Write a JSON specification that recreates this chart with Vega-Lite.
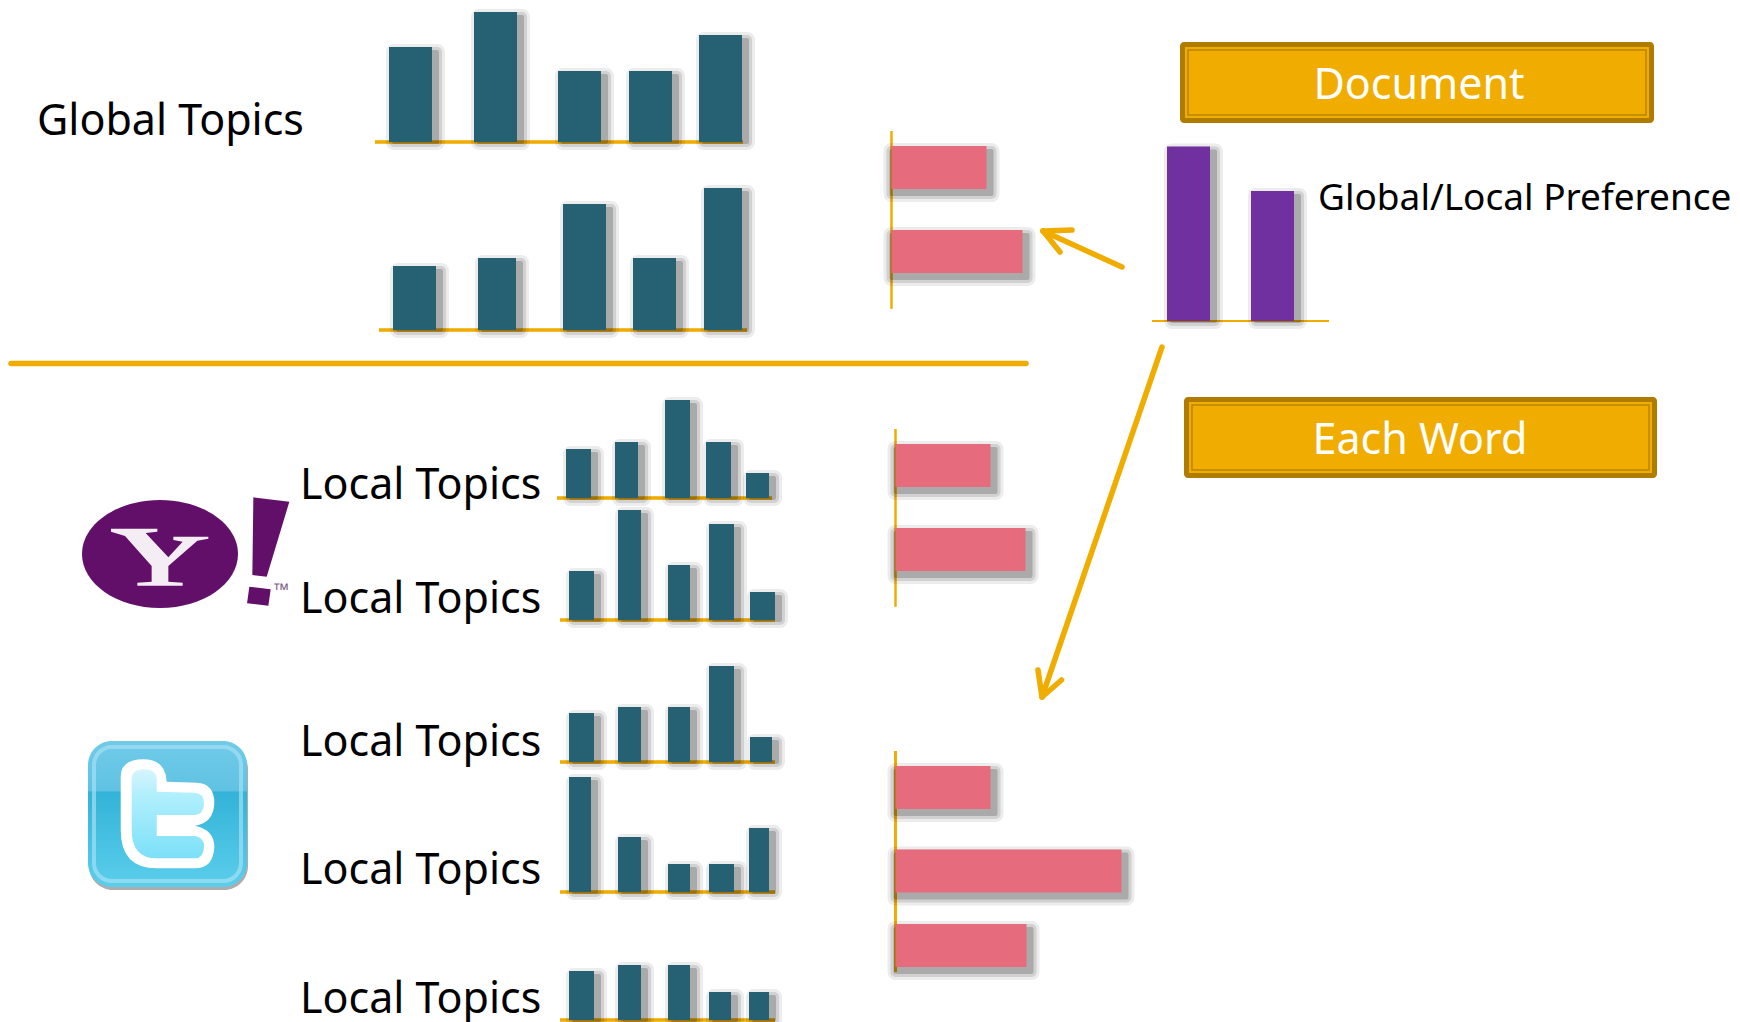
{"$schema":"https://vega.github.io/schema/vega-lite/v6.json","width":1740,"height":1022,"padding":0,"autosize":{"type":"fit","contains":"padding"},"background":"#ffffff",
"config":{"view":{"stroke":null},"axis":{"disable":true},"legend":{"disable":true},"bar":{"color":"#000000"},
"style":{"s1":{"opacity":0.07,"stroke":"#000","strokeJoin":"round","strokeWidth":16},"s2":{"opacity":0.11,"stroke":"#000","strokeJoin":"round","strokeWidth":10},"s3":{"opacity":0.18,"stroke":"#000","strokeJoin":"round","strokeWidth":4}}},
"datasets":{"bars":[
{"panel":"g1","topic":1,"value":95},{"panel":"g1","topic":2,"value":130},{"panel":"g1","topic":3,"value":71},{"panel":"g1","topic":4,"value":71},{"panel":"g1","topic":5,"value":107},
{"panel":"g2","topic":1,"value":64},{"panel":"g2","topic":2,"value":72},{"panel":"g2","topic":3,"value":126},{"panel":"g2","topic":4,"value":72},{"panel":"g2","topic":5,"value":142},
{"panel":"l1","topic":1,"value":49},{"panel":"l1","topic":2,"value":56},{"panel":"l1","topic":3,"value":98},{"panel":"l1","topic":4,"value":56},{"panel":"l1","topic":5,"value":25},
{"panel":"l2","topic":1,"value":49},{"panel":"l2","topic":2,"value":110},{"panel":"l2","topic":3,"value":55},{"panel":"l2","topic":4,"value":96},{"panel":"l2","topic":5,"value":28},
{"panel":"l3","topic":1,"value":49},{"panel":"l3","topic":2,"value":55},{"panel":"l3","topic":3,"value":55},{"panel":"l3","topic":4,"value":96},{"panel":"l3","topic":5,"value":25},
{"panel":"l4","topic":1,"value":115},{"panel":"l4","topic":2,"value":55},{"panel":"l4","topic":3,"value":28},{"panel":"l4","topic":4,"value":28},{"panel":"l4","topic":5,"value":64},
{"panel":"l5","topic":1,"value":49},{"panel":"l5","topic":2,"value":55},{"panel":"l5","topic":3,"value":55},{"panel":"l5","topic":4,"value":28},{"panel":"l5","topic":5,"value":28},
{"panel":"pref","topic":1,"value":174.5},{"panel":"pref","topic":2,"value":130},
{"panel":"pa","topic":1,"value":95},{"panel":"pa","topic":2,"value":131},
{"panel":"pb","topic":1,"value":95},{"panel":"pb","topic":2,"value":130},
{"panel":"pc","topic":1,"value":95},{"panel":"pc","topic":2,"value":226},{"panel":"pc","topic":3,"value":131}
],
"notes":[
{"kind":"frame","a":1,"b":2},{"kind":"fill","a":3,"b":4},{"kind":"thin","a":5,"b":6},
{"kind":"frame","a":7,"b":8},{"kind":"fill","a":9,"b":10},{"kind":"thin","a":11,"b":12},
{"kind":"stroke","a":13,"b":14},{"kind":"stroke","a":15,"b":16},{"kind":"stroke","a":17,"b":16},{"kind":"stroke","a":18,"b":16},
{"kind":"stroke","a":19,"b":20},{"kind":"stroke","a":21,"b":20},{"kind":"stroke","a":22,"b":20},
{"kind":"label","a":23,"text":"Global Topics"},{"kind":"label","a":24,"text":"Local Topics"},{"kind":"label","a":25,"text":"Local Topics"},{"kind":"label","a":26,"text":"Local Topics"},{"kind":"label","a":27,"text":"Local Topics"},{"kind":"label","a":28,"text":"Local Topics"},
{"kind":"pref","a":29,"text":"Global/Local Preference"},
{"kind":"title","a":30,"text":"Document"},{"kind":"title","a":31,"text":"Each Word"},
{"kind":"ellipse","a":32},{"kind":"y","a":33},{"kind":"bang","a":34},{"kind":"tm","a":35,"text":"™"},
{"kind":"tshadow","a":38,"b":39},{"kind":"tile","a":36,"b":37},{"kind":"ring","a":40,"b":41},{"kind":"t","a":42}
]},
"data":{"name":"bars"},
"resolve":{"scale":{"x":"independent","y":"independent","size":"independent"}},
"layer":[
{"data":{"name":"notes"},
"encoding":{"x":{"field":"a","type":"quantitative","scale":{"domain":[1,2,3,4,5,6,7,8,9,10,11,12,13,14,15,16,17,18,19,20,21,22,23,24,25,26,27,28,29,30,31,32,33,34,35,36,37,38,39,40,41,42],"range":[1180,1654,1185,1649,1188,1646,1184,1657,1189,1652,1192,1649,11,1026,1122,1043,1072,1060,1162,1042,1038,1061.5,37,300,300,300,300,300,1318,1419,1420,160,160,266.7,281,88,247,89,248,94,241,166.7]}},
"y":{"field":"a","type":"quantitative","scale":{"domain":[1,2,3,4,5,6,7,8,9,10,11,12,13,14,15,16,17,18,19,20,21,22,23,24,25,26,27,28,29,30,31,32,33,34,35,36,37,38,39,40,41,42],"range":[42,123,47,118,50,115,397,478,402,473,405,470,363.5,363.5,267,231,230,252,347,697,670,680,135,499,613,756,884,1013,210,86,441,554,556.7,551.7,590,741,887,745,890,747,881,813.3]}}},
"layer":[
{"transform":[{"filter":"datum.kind==='frame'"}],"mark":{"type":"rect","color":"#B07C00","cornerRadius":4},"encoding":{"x2":{"field":"b"},"y2":{"field":"b"}}},
{"transform":[{"filter":"datum.kind==='fill'"}],"mark":{"type":"rect","color":"#F0AD00"},"encoding":{"x2":{"field":"b"},"y2":{"field":"b"}}},
{"transform":[{"filter":"datum.kind==='thin'"}],"mark":{"type":"rect","filled":false,"stroke":"#B88400","strokeWidth":1.5},"encoding":{"x2":{"field":"b"},"y2":{"field":"b"}}},
{"transform":[{"filter":"datum.kind==='stroke'"}],"mark":{"type":"rule","color":"#F0AD00","strokeWidth":5.5,"strokeCap":"round"},"encoding":{"x2":{"field":"b"},"y2":{"field":"b"}}},
{"transform":[{"filter":"datum.kind==='label'"}],"mark":{"type":"text","font":"Noto Sans","fontSize":43,"color":"#000000","align":"left","baseline":"alphabetic"},"encoding":{"text":{"field":"text"}}},
{"transform":[{"filter":"datum.kind==='pref'"}],"mark":{"type":"text","font":"Noto Sans","fontSize":37,"color":"#000000","align":"left","baseline":"alphabetic"},"encoding":{"text":{"field":"text"}}},
{"transform":[{"filter":"datum.kind==='title'"}],"mark":{"type":"text","font":"Noto Sans","fontSize":43,"color":"#ffffff","align":"center","baseline":"middle"},"encoding":{"text":{"field":"text"}}},
{"transform":[{"filter":"datum.kind==='ellipse'"}],"mark":{"type":"point","filled":true,"opacity":1,"color":"#620F69","size":24336,"shape":"M-1,0A1,0.692,0,1,1,1,0A1,0.692,0,1,1,-1,0Z"}},
{"transform":[{"filter":"datum.kind==='y'"}],"mark":{"type":"point","filled":true,"opacity":1,"color":"#F4EEF4","size":10000,"shape":"M-.98,-.56L-.053,-.56L-.053,-.5L-.287,-.473L.167,.013L.453,-.3L.267,-.333L.267,-.4L.967,-.4L.967,-.36L.747,-.32L.167,.187L.167,.5L.453,.52L.453,.58L-.453,.58L-.453,.52L-.167,.5L-.167,.187L-.7,-.413L-.98,-.5Z"}},
{"transform":[{"filter":"datum.kind==='bang'"}],"mark":{"type":"point","filled":true,"opacity":1,"color":"#620F69","size":10000,"shape":"M-.267,-1.087L.453,-1L0,.5L-.287,.467ZM-.347,.7L.08,.753L.033,1.08L-.393,1.033Z"}},
{"transform":[{"filter":"datum.kind==='tm'"}],"mark":{"type":"text","font":"Liberation Sans","fontSize":17,"color":"#7A5A80","align":"center","baseline":"middle"},"encoding":{"text":{"field":"text"}}},
{"transform":[{"filter":"datum.kind==='tshadow'"}],"mark":{"type":"rect","color":"#8A8A8A","opacity":0.7,"cornerRadius":24},"encoding":{"x2":{"field":"b"},"y2":{"field":"b"}}},
{"transform":[{"filter":"datum.kind==='tile'"}],"mark":{"type":"rect","cornerRadius":24,"color":{"gradient":"linear","x1":0,"y1":0,"x2":0,"y2":1,"stops":[{"offset":0,"color":"#70CBE9"},{"offset":0.34,"color":"#60C2E3"},{"offset":0.35,"color":"#33B3D8"},{"offset":1,"color":"#5BCEEC"}]}},"encoding":{"x2":{"field":"b"},"y2":{"field":"b"}}},
{"transform":[{"filter":"datum.kind==='ring'"}],"mark":{"type":"rect","filled":false,"stroke":"#A5DFF2","strokeOpacity":0.7,"strokeWidth":4,"cornerRadius":18},"encoding":{"x2":{"field":"b"},"y2":{"field":"b"}}},
{"transform":[{"filter":"datum.kind==='t'"}],"mark":{"type":"point","filled":true,"opacity":1,"color":"#ffffff","size":10000,"shape":"M-.92,-.733Q-.92,-1.08,-.467,-1.08Q-.02,-1.08,0,-.633L.6,-.613Q.953,-.6,.953,-.2Q.933,.2,.567,.247Q.953,.333,.953,.667Q.933,1.1,.567,1.1L-.2,1.1Q-.92,1.1,-.92,.333Z"}},
{"transform":[{"filter":"datum.kind==='t'"}],"mark":{"type":"point","filled":true,"opacity":1,"size":10000,"color":{"gradient":"linear","x1":0,"y1":0,"x2":0,"y2":1,"stops":[{"offset":0,"color":"#D5F5FD"},{"offset":0.3,"color":"#B0EFFD"},{"offset":1,"color":"#7CE0F8"}]},"shape":"M-.7,-.667Q-.7,-.88,-.467,-.88Q-.2,-.88,-.2,-.667L-.2,-.433L.567,-.413Q.747,-.4,.747,-.2Q.733,.033,.567,.033L-.2,.033L-.2,.453L.567,.453Q.747,.48,.747,.667Q.733,.9,.567,.9L-.2,.9Q-.7,.9,-.7,.333Z"}}
]},
{"transform":[{"filter":"datum.panel==='g1'"}],"encoding":{"x":{"field":"topic","type":"quantitative","scale":{"padding":0,"domain":[0,1,2,3,4,5,6],"range":[375,410.5,495.5,579.5,650.5,720.5,743]}},"y":{"field":"value","type":"quantitative","stack":null,"scale":{"domain":[0,100],"range":[142,42]}},"size":{"field":"topic","type":"quantitative","scale":{"domain":[1,5],"range":[43,43]}}},"layer":[
{"mark":{"type":"rule","color":"#F0AD00","strokeWidth":2.5},"encoding":{"size":null,"x":{"datum":0,"type":"quantitative"},"x2":{"datum":6},"y":{"datum":0,"type":"quantitative"}}},
{"mark":{"type":"bar","orient":"vertical","style":"s1","xOffset":5,"yOffset":5}},{"mark":{"type":"bar","orient":"vertical","style":"s2","xOffset":5,"yOffset":5}},{"mark":{"type":"bar","orient":"vertical","style":"s3","xOffset":5,"yOffset":5}},
{"mark":{"type":"bar","orient":"vertical","color":"#266173"}}]},
{"transform":[{"filter":"datum.panel==='g2'"}],"encoding":{"x":{"field":"topic","type":"quantitative","scale":{"padding":0,"domain":[0,1,2,3,4,5,6],"range":[379,414.5,497,584.5,654.5,723,747]}},"y":{"field":"value","type":"quantitative","stack":null,"scale":{"domain":[0,100],"range":[330,230]}},"size":{"field":"topic","type":"quantitative","scale":{"domain":[1,2,3,4,5],"range":[43,38,43,43,38]}}},"layer":[
{"mark":{"type":"rule","color":"#F0AD00","strokeWidth":2.5},"encoding":{"size":null,"x":{"datum":0,"type":"quantitative"},"x2":{"datum":6},"y":{"datum":0,"type":"quantitative"}}},
{"mark":{"type":"bar","orient":"vertical","style":"s1","xOffset":5,"yOffset":5}},{"mark":{"type":"bar","orient":"vertical","style":"s2","xOffset":5,"yOffset":5}},{"mark":{"type":"bar","orient":"vertical","style":"s3","xOffset":5,"yOffset":5}},
{"mark":{"type":"bar","orient":"vertical","color":"#266173"}}]},
{"transform":[{"filter":"datum.panel==='l1'"}],"encoding":{"x":{"field":"topic","type":"quantitative","scale":{"padding":0,"domain":[0,1,2,3,4,5,6],"range":[557,578.5,626.5,677.5,718.5,757.5,772]}},"y":{"field":"value","type":"quantitative","stack":null,"scale":{"domain":[0,100],"range":[498,398]}},"size":{"field":"topic","type":"quantitative","scale":{"domain":[1,2,3,4,5],"range":[25,23,25,25,23]}}},"layer":[
{"mark":{"type":"rule","color":"#F0AD00","strokeWidth":2.5},"encoding":{"size":null,"x":{"datum":0,"type":"quantitative"},"x2":{"datum":6},"y":{"datum":0,"type":"quantitative"}}},
{"mark":{"type":"bar","orient":"vertical","style":"s1","xOffset":5,"yOffset":5}},{"mark":{"type":"bar","orient":"vertical","style":"s2","xOffset":5,"yOffset":5}},{"mark":{"type":"bar","orient":"vertical","style":"s3","xOffset":5,"yOffset":5}},
{"mark":{"type":"bar","orient":"vertical","color":"#266173"}}]},
{"transform":[{"filter":"datum.panel==='l2'"}],"encoding":{"x":{"field":"topic","type":"quantitative","scale":{"padding":0,"domain":[0,1,2,3,4,5,6],"range":[560,581.5,629.5,679,721.5,762.5,775]}},"y":{"field":"value","type":"quantitative","stack":null,"scale":{"domain":[0,100],"range":[620,520]}},"size":{"field":"topic","type":"quantitative","scale":{"domain":[1,2,3,4,5],"range":[25,23,22,25,25]}}},"layer":[
{"mark":{"type":"rule","color":"#F0AD00","strokeWidth":2.5},"encoding":{"size":null,"x":{"datum":0,"type":"quantitative"},"x2":{"datum":6},"y":{"datum":0,"type":"quantitative"}}},
{"mark":{"type":"bar","orient":"vertical","style":"s1","xOffset":5,"yOffset":5}},{"mark":{"type":"bar","orient":"vertical","style":"s2","xOffset":5,"yOffset":5}},{"mark":{"type":"bar","orient":"vertical","style":"s3","xOffset":5,"yOffset":5}},
{"mark":{"type":"bar","orient":"vertical","color":"#266173"}}]},
{"transform":[{"filter":"datum.panel==='l3'"}],"encoding":{"x":{"field":"topic","type":"quantitative","scale":{"padding":0,"domain":[0,1,2,3,4,5,6],"range":[560,581.5,629.5,679,721.5,761,775]}},"y":{"field":"value","type":"quantitative","stack":null,"scale":{"domain":[0,100],"range":[762,662]}},"size":{"field":"topic","type":"quantitative","scale":{"domain":[1,2,3,4,5],"range":[25,23,22,25,22]}}},"layer":[
{"mark":{"type":"rule","color":"#F0AD00","strokeWidth":2.5},"encoding":{"size":null,"x":{"datum":0,"type":"quantitative"},"x2":{"datum":6},"y":{"datum":0,"type":"quantitative"}}},
{"mark":{"type":"bar","orient":"vertical","style":"s1","xOffset":5,"yOffset":5}},{"mark":{"type":"bar","orient":"vertical","style":"s2","xOffset":5,"yOffset":5}},{"mark":{"type":"bar","orient":"vertical","style":"s3","xOffset":5,"yOffset":5}},
{"mark":{"type":"bar","orient":"vertical","color":"#266173"}}]},
{"transform":[{"filter":"datum.panel==='l4'"}],"encoding":{"x":{"field":"topic","type":"quantitative","scale":{"padding":0,"domain":[0,1,2,3,4,5,6],"range":[560,580,629.5,679,721.5,759,775]}},"y":{"field":"value","type":"quantitative","stack":null,"scale":{"domain":[0,100],"range":[892,792]}},"size":{"field":"topic","type":"quantitative","scale":{"domain":[1,2,3,4,5],"range":[22,23,22,25,20]}}},"layer":[
{"mark":{"type":"rule","color":"#F0AD00","strokeWidth":2.5},"encoding":{"size":null,"x":{"datum":0,"type":"quantitative"},"x2":{"datum":6},"y":{"datum":0,"type":"quantitative"}}},
{"mark":{"type":"bar","orient":"vertical","style":"s1","xOffset":5,"yOffset":5}},{"mark":{"type":"bar","orient":"vertical","style":"s2","xOffset":5,"yOffset":5}},{"mark":{"type":"bar","orient":"vertical","style":"s3","xOffset":5,"yOffset":5}},
{"mark":{"type":"bar","orient":"vertical","color":"#266173"}}]},
{"transform":[{"filter":"datum.panel==='l5'"}],"encoding":{"x":{"field":"topic","type":"quantitative","scale":{"padding":0,"domain":[0,1,2,3,4,5,6],"range":[560,581.5,629.5,679,720,759,775]}},"y":{"field":"value","type":"quantitative","stack":null,"scale":{"domain":[0,100],"range":[1020,920]}},"size":{"field":"topic","type":"quantitative","scale":{"domain":[1,2,3,4,5],"range":[25,23,22,22,20]}}},"layer":[
{"mark":{"type":"rule","color":"#F0AD00","strokeWidth":2.5},"encoding":{"size":null,"x":{"datum":0,"type":"quantitative"},"x2":{"datum":6},"y":{"datum":0,"type":"quantitative"}}},
{"mark":{"type":"bar","orient":"vertical","style":"s1","xOffset":5,"yOffset":5}},{"mark":{"type":"bar","orient":"vertical","style":"s2","xOffset":5,"yOffset":5}},{"mark":{"type":"bar","orient":"vertical","style":"s3","xOffset":5,"yOffset":5}},
{"mark":{"type":"bar","orient":"vertical","color":"#266173"}}]},
{"transform":[{"filter":"datum.panel==='pref'"}],"encoding":{"x":{"field":"topic","type":"quantitative","scale":{"padding":0,"domain":[0,1,2,3],"range":[1152,1188.5,1272.5,1329]}},"y":{"field":"value","type":"quantitative","stack":null,"scale":{"domain":[0,100],"range":[321,221]}},"size":{"field":"topic","type":"quantitative","scale":{"domain":[1,2],"range":[43,43]}}},"layer":[
{"mark":{"type":"rule","color":"#F0AD00","strokeWidth":2},"encoding":{"size":null,"x":{"datum":0,"type":"quantitative"},"x2":{"datum":3},"y":{"datum":0,"type":"quantitative"}}},
{"mark":{"type":"bar","orient":"vertical","style":"s1","xOffset":5,"yOffset":5}},{"mark":{"type":"bar","orient":"vertical","style":"s2","xOffset":5,"yOffset":5}},{"mark":{"type":"bar","orient":"vertical","style":"s3","xOffset":5,"yOffset":5}},
{"mark":{"type":"bar","orient":"vertical","color":"#7030A0"}}]},
{"transform":[{"filter":"datum.panel==='pa'"}],"encoding":{"y":{"field":"topic","type":"quantitative","scale":{"padding":0,"domain":[0,1,2,3],"range":[131,167.5,251.5,308.7]}},"x":{"field":"value","type":"quantitative","stack":null,"scale":{"domain":[0,100],"range":[891.5,991.5]}}},"layer":[
{"mark":{"type":"rule","color":"#F0AD00","strokeWidth":2},"encoding":{"y":{"datum":0,"type":"quantitative"},"y2":{"datum":3},"x":{"datum":0,"type":"quantitative"}}},
{"mark":{"type":"bar","orient":"horizontal","size":43,"style":"s1","xOffset":5,"yOffset":5}},{"mark":{"type":"bar","orient":"horizontal","size":43,"style":"s2","xOffset":5,"yOffset":5}},{"mark":{"type":"bar","orient":"horizontal","size":43,"style":"s3","xOffset":5,"yOffset":5}},
{"mark":{"type":"bar","orient":"horizontal","size":43,"color":"#E66C7D"}}]},
{"transform":[{"filter":"datum.panel==='pb'"}],"encoding":{"y":{"field":"topic","type":"quantitative","scale":{"padding":0,"domain":[0,1,2,3],"range":[429,465.5,549.5,606.7]}},"x":{"field":"value","type":"quantitative","stack":null,"scale":{"domain":[0,100],"range":[895.5,995.5]}}},"layer":[
{"mark":{"type":"rule","color":"#F0AD00","strokeWidth":2},"encoding":{"y":{"datum":0,"type":"quantitative"},"y2":{"datum":3},"x":{"datum":0,"type":"quantitative"}}},
{"mark":{"type":"bar","orient":"horizontal","size":43,"style":"s1","xOffset":5,"yOffset":5}},{"mark":{"type":"bar","orient":"horizontal","size":43,"style":"s2","xOffset":5,"yOffset":5}},{"mark":{"type":"bar","orient":"horizontal","size":43,"style":"s3","xOffset":5,"yOffset":5}},
{"mark":{"type":"bar","orient":"horizontal","size":43,"color":"#E66C7D"}}]},
{"transform":[{"filter":"datum.panel==='pc'"}],"encoding":{"y":{"field":"topic","type":"quantitative","scale":{"padding":0,"domain":[0,1,2,3,4],"range":[751,787.5,871,945.5,971.7]}},"x":{"field":"value","type":"quantitative","stack":null,"scale":{"domain":[0,100],"range":[895.5,995.5]}}},"layer":[
{"mark":{"type":"rule","color":"#F0AD00","strokeWidth":2.5},"encoding":{"y":{"datum":0,"type":"quantitative"},"y2":{"datum":4},"x":{"datum":0,"type":"quantitative"}}},
{"mark":{"type":"bar","orient":"horizontal","size":43,"style":"s1","xOffset":5,"yOffset":5}},{"mark":{"type":"bar","orient":"horizontal","size":43,"style":"s2","xOffset":5,"yOffset":5}},{"mark":{"type":"bar","orient":"horizontal","size":43,"style":"s3","xOffset":5,"yOffset":5}},
{"mark":{"type":"bar","orient":"horizontal","size":43,"color":"#E66C7D"}}]}
]}
